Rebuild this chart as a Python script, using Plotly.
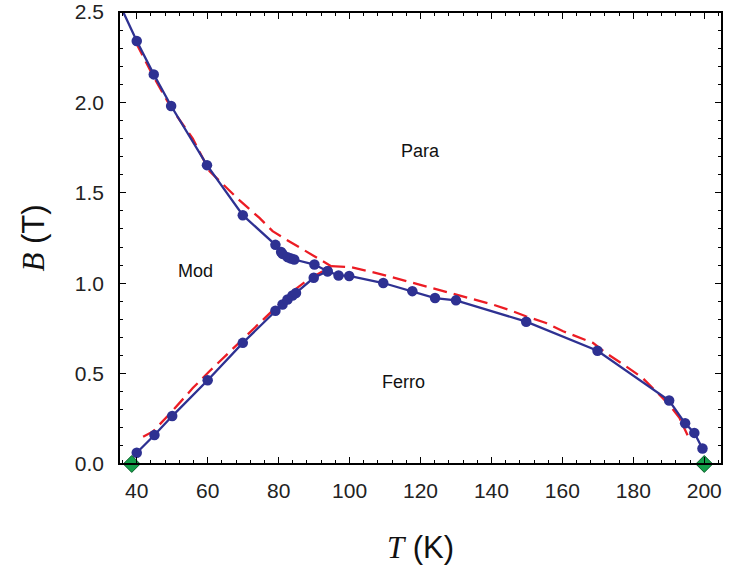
import plotly.graph_objects as go

# ---- data ----
T_upper = [40, 44.8, 49.7, 59.8, 69.9, 79.1, 80.7, 81.1, 82.5, 83.5, 84.4, 90.1, 93.8, 96.9, 99.9,
           109.5, 117.7, 124.1, 130.0, 149.8, 169.9, 190.1, 194.6, 197.2, 199.5]
B_upper = [2.34, 2.155, 1.98, 1.653, 1.376, 1.212, 1.173, 1.162, 1.144, 1.137, 1.131, 1.103, 1.066, 1.043, 1.040,
           1.001, 0.956, 0.918, 0.905, 0.787, 0.626, 0.351, 0.225, 0.172, 0.086]
T_lead = [35.0]          # line continues beyond the top-left corner
B_lead = [2.55]

T_lower = [40, 45, 50, 60, 69.9, 79.1, 81.1, 82.5, 83.9, 84.9, 89.9, 93.8]
B_lower = [0.062, 0.160, 0.265, 0.463, 0.670, 0.848, 0.882, 0.910, 0.932, 0.946, 1.030, 1.066]

T_red_upper = [39.8, 44.8, 49.7, 55.8, 60.5, 65.0, 69.0, 74.6, 78.3, 82.1, 87.7, 92.4, 94.8]
B_red_upper = [2.33, 2.14, 1.97, 1.80, 1.62, 1.535, 1.458, 1.361, 1.288, 1.242, 1.177, 1.122, 1.094]

T_red_lower = [41.8, 44.6, 50.0, 55.8, 60.5, 69.9, 79.3, 84.0, 87.7, 92.4, 94.8]
B_red_lower = [0.150, 0.180, 0.292, 0.420, 0.513, 0.688, 0.863, 0.956, 1.011, 1.066, 1.094]

T_red_right = [94.8, 100.4, 108.4, 117.8, 124.4, 130.0, 140.4, 146.0, 149.7, 155.4, 160.2, 168.6,
               172.3, 177.9, 182.6, 186.4, 190.1, 193.0, 195.3]
B_red_right = [1.094, 1.089, 1.052, 1.002, 0.971, 0.941, 0.882, 0.845, 0.817, 0.780, 0.734, 0.670,
               0.614, 0.541, 0.476, 0.402, 0.329, 0.255, 0.159]

T_diamond = [38.6, 200.0]
B_diamond = [0.0, 0.0]

region_labels = ["Para", "Mod", "Ferro"]
region_T = [119.9, 56.6, 115.3]
region_B = [1.73, 1.065, 0.452]

x_ticks = [40, 60, 80, 100, 120, 140, 160, 180, 200]
y_ticks = [0.0, 0.5, 1.0, 1.5, 2.0, 2.5]

BLUE = "#2e3192"
RED = "#ec1c24"
GREEN = "#14a04a"
FONT = "Liberation Sans, Arial, sans-serif"

fig = go.Figure()

red_line = dict(color=RED, width=2.3, dash="14px,7px")
for tx, by in [(T_red_upper, B_red_upper), (T_red_lower, B_red_lower), (T_red_right, B_red_right)]:
    fig.add_trace(go.Scatter(x=tx, y=by, mode="lines", line=red_line, showlegend=False, hoverinfo="skip"))

fig.add_trace(go.Scatter(x=T_lead + T_upper, y=B_lead + B_upper, mode="lines",
                         line=dict(color=BLUE, width=2.3), showlegend=False))
fig.add_trace(go.Scatter(x=T_lower, y=B_lower, mode="lines",
                         line=dict(color=BLUE, width=2.3), showlegend=False))
fig.add_trace(go.Scatter(x=T_upper + T_lower, y=B_upper + B_lower, mode="markers",
                         marker=dict(color=BLUE, size=10.5), showlegend=False))
fig.add_trace(go.Scatter(x=T_diamond, y=B_diamond, mode="markers", cliponaxis=False,
                         marker=dict(symbol="diamond", color=GREEN, size=13,
                                     line=dict(color="#0b5e2a", width=1)),
                         showlegend=False))

for txt, tx, by in zip(region_labels, region_T, region_B):
    fig.add_annotation(x=tx, y=by, text=txt, showarrow=False,
                       font=dict(family=FONT, size=18, color="#111"))

# plot frame
fig.add_shape(type="rect", xref="paper", yref="paper", x0=0, y0=0, x1=1, y1=1,
              line=dict(color="black", width=2), layer="above")

axis_common = dict(
    showline=False, mirror="allticks",
    ticks="inside", ticklen=7, tickwidth=1, tickcolor="black",
    showgrid=False, zeroline=False, automargin=False,
    ticklabeloverflow="allow",
    tickfont=dict(family=FONT, size=21, color="#222"),
)

fig.update_xaxes(range=[35, 205], tickvals=x_ticks, ticktext=[str(v) for v in x_ticks],
                 minor=dict(dtick=4, tick0=0, ticks="inside", ticklen=4, tickcolor="black"),
                 ticklabelstandoff=12,
                 title=dict(text="<i><span style='font-family:Liberation Serif'>T</span></i> (K)",
                            font=dict(family=FONT, size=31, color="#111"), standoff=35),
                 **axis_common)
fig.update_yaxes(range=[-0.0001, 2.5001], tickvals=y_ticks, ticktext=[f"{v:.1f}" for v in y_ticks],
                 minor=dict(dtick=0.1, tick0=0, ticks="inside", ticklen=4, tickcolor="black"),
                 ticklabelstandoff=14,
                 title=dict(text="<i><span style='font-family:Liberation Serif'>B</span></i> (T)",
                            font=dict(family=FONT, size=31, color="#111"), standoff=20),
                 **axis_common)

fig.update_layout(
    width=730, height=578,
    margin=dict(l=119, r=8, t=12, b=114),
    plot_bgcolor="white", paper_bgcolor="white",
)

fig.write_html("out.html", config={"displayModeBar": False},
               post_script="document.body.style.margin='0px';")
